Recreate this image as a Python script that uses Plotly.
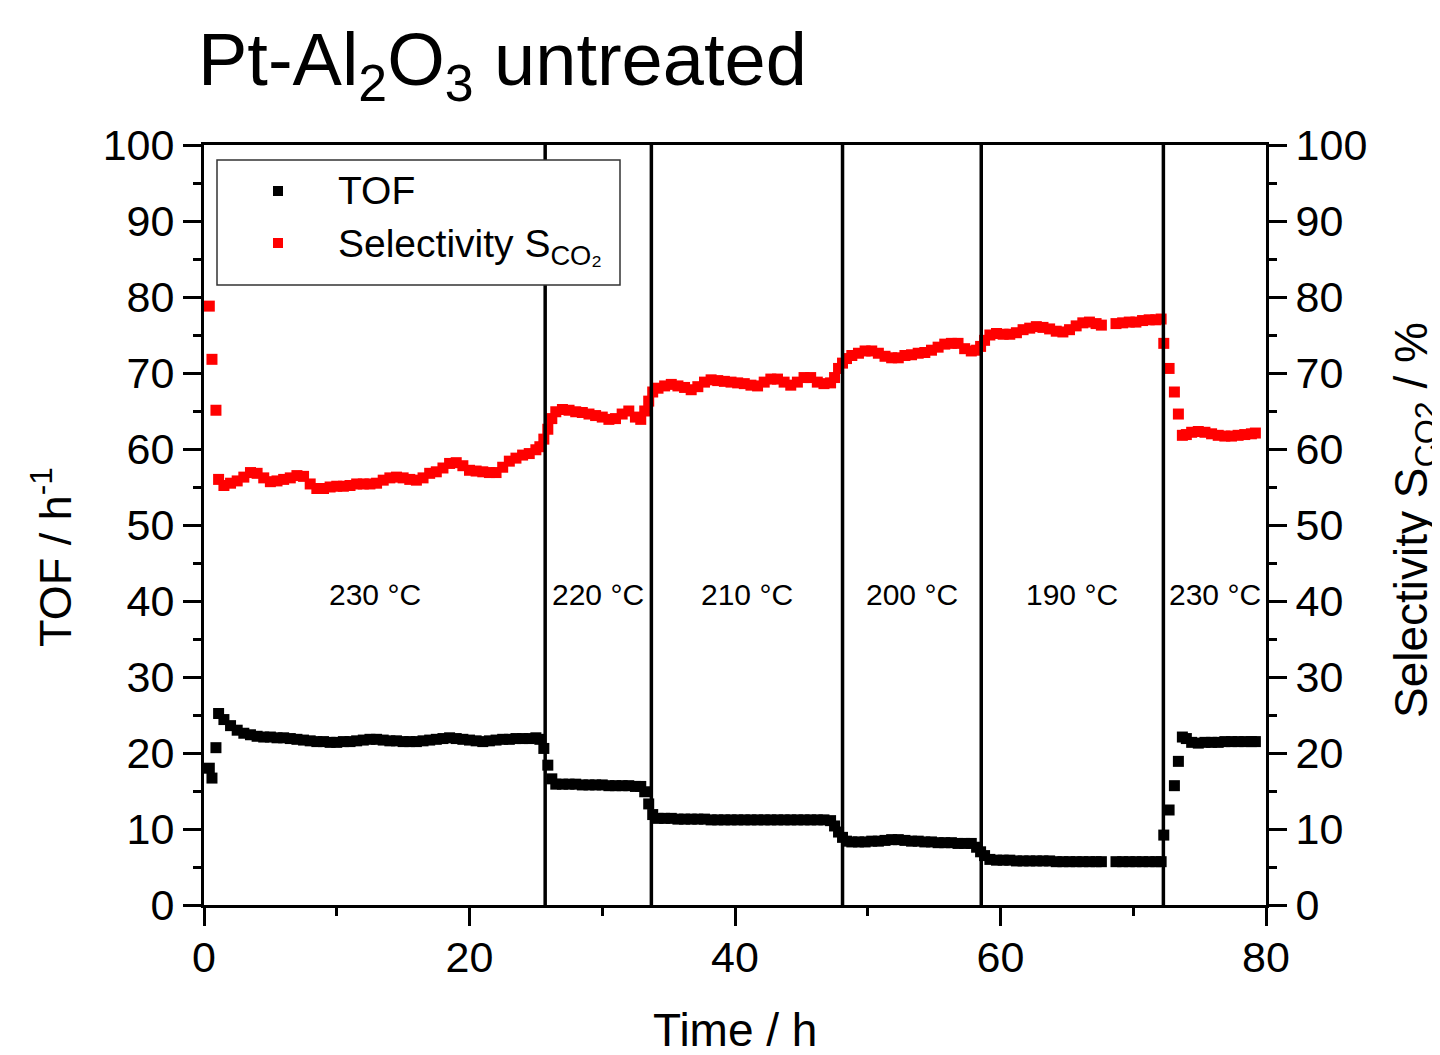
import plotly.graph_objects as go

# ---------------- data ----------------
time_h = [0.4, 0.6, 0.9, 1.1, 1.5, 2.0, 2.5, 3.0, 3.5, 4.0, 4.5, 5.0, 5.5, 6.0, 6.5, 7.0, 7.5, 8.0, 8.5, 9.0,
          9.5, 10.0, 10.5, 11.0, 11.5, 12.0, 12.5, 13.0, 13.5, 14.0, 14.5, 15.0, 15.5, 16.0, 16.5, 17.0, 17.5, 18.0,
          18.5, 19.0, 19.5, 20.0, 20.5, 21.0, 21.5, 22.0, 22.5, 23.0, 23.5, 24.0, 24.5, 25.0, 25.3, 25.6, 25.9,
          26.2, 26.5, 27.0, 27.5, 28.0, 28.5, 29.0, 29.5, 30.0, 30.5, 31.0, 31.5, 32.0, 32.5, 32.9, 33.2, 33.5,
          33.8, 34.2, 34.7, 35.2, 35.7, 36.2, 36.7, 37.2, 37.7, 38.2, 38.7, 39.2, 39.7, 40.2, 40.7, 41.2, 41.7,
          42.2, 42.7, 43.2, 43.7, 44.2, 44.7, 45.2, 45.7, 46.2, 46.7, 47.2, 47.5, 47.8, 48.1, 48.4, 48.8, 49.3,
          49.8, 50.3, 50.8, 51.3, 51.8, 52.3, 52.8, 53.3, 53.8, 54.3, 54.8, 55.3, 55.8, 56.3, 56.8, 57.3, 57.8,
          58.2, 58.5, 58.8, 59.2, 59.7, 60.2, 60.7, 61.2, 61.7, 62.2, 62.7, 63.2, 63.7, 64.2, 64.7, 65.2, 65.7,
          66.2, 66.7, 67.2, 67.6, 68.7, 69.2, 69.7, 70.2, 70.7, 71.2, 71.7, 72.1, 72.3, 72.7, 73.1, 73.4, 73.7,
          74.0, 74.4, 74.9, 75.4, 75.9, 76.4, 76.9, 77.4, 77.9, 78.4, 78.9, 79.2]

tof = [18.0, 16.7, 20.7, 25.2, 24.4, 23.6, 23.0, 22.6, 22.4, 22.2, 22.1, 22.1, 22.0, 22.0, 21.9, 21.8, 21.7, 21.6,
       21.5, 21.5, 21.4, 21.4, 21.5, 21.5, 21.6, 21.7, 21.8, 21.8, 21.7, 21.6, 21.6, 21.5, 21.5, 21.5, 21.6, 21.7,
       21.8, 21.9, 22.0, 21.9, 21.8, 21.7, 21.6, 21.5, 21.6, 21.7, 21.8, 21.8, 21.9, 21.9, 21.9, 22.0, 21.8, 20.6,
       18.4, 16.6, 15.9, 15.9, 15.9, 15.9, 15.8, 15.8, 15.8, 15.8, 15.7, 15.7, 15.7, 15.7, 15.6, 15.6, 14.9, 13.3,
       11.9, 11.4, 11.4, 11.4, 11.3, 11.3, 11.3, 11.3, 11.3, 11.2, 11.2, 11.2, 11.2, 11.2, 11.2, 11.2, 11.2, 11.2,
       11.2, 11.2, 11.2, 11.2, 11.2, 11.2, 11.2, 11.2, 11.2, 11.1, 10.4, 9.6, 8.9, 8.4, 8.3, 8.3, 8.3, 8.4, 8.4,
       8.5, 8.6, 8.6, 8.5, 8.4, 8.4, 8.3, 8.3, 8.2, 8.2, 8.2, 8.1, 8.1, 8.1, 7.6, 7.0, 6.5, 6.0, 5.9, 5.9, 5.9,
       5.8, 5.8, 5.8, 5.8, 5.8, 5.8, 5.7, 5.7, 5.7, 5.7, 5.7, 5.7, 5.7, 5.7, 5.7, 5.7, 5.7, 5.7, 5.7, 5.7, 5.7,
       5.7, 9.2, 12.5, 15.7, 18.9, 22.1, 21.9, 21.4, 21.3, 21.4, 21.4, 21.4, 21.5, 21.5, 21.5, 21.5, 21.5, 21.5]

selectivity = [78.8, 71.8, 65.1, 56.0, 55.2, 55.5, 55.8, 56.3, 56.9, 56.8, 56.2, 55.7, 55.8, 56.0, 56.2, 56.5,
               56.4, 55.4, 54.8, 54.8, 55.0, 55.1, 55.1, 55.2, 55.4, 55.4, 55.4, 55.5, 55.9, 56.2, 56.3, 56.2,
               56.0, 55.9, 56.2, 56.8, 57.0, 57.5, 58.1, 58.2, 57.8, 57.2, 57.1, 57.0, 56.9, 56.9, 57.6, 58.4,
               58.8, 59.2, 59.4, 59.9, 60.3, 61.3, 62.6, 64.0, 64.9, 65.2, 65.1, 64.9, 64.8, 64.6, 64.4, 64.2,
               63.9, 64.0, 64.6, 65.0, 64.2, 63.9, 65.0, 66.3, 67.5, 68.0, 68.3, 68.5, 68.3, 68.1, 67.8, 68.2,
               68.8, 69.1, 69.0, 68.9, 68.8, 68.7, 68.6, 68.4, 68.3, 68.8, 69.2, 69.2, 68.8, 68.4, 68.8, 69.4,
               69.4, 68.8, 68.6, 68.7, 69.4, 70.6, 71.3, 71.9, 72.3, 72.6, 72.9, 72.9, 72.6, 72.2, 72.0, 72.0,
               72.3, 72.4, 72.6, 72.7, 73.0, 73.4, 73.8, 73.9, 73.9, 73.2, 72.9, 73.0, 73.5, 74.3, 75.0, 75.2,
               75.1, 75.1, 75.3, 75.7, 75.9, 76.1, 76.0, 75.8, 75.5, 75.4, 75.7, 76.2, 76.6, 76.7, 76.5, 76.3,
               76.5, 76.6, 76.7, 76.7, 76.9, 77.0, 77.0, 77.1, 73.9, 70.6, 67.5, 64.6, 61.8, 61.9, 62.2, 62.3,
               62.2, 62.0, 61.8, 61.7, 61.7, 61.8, 61.9, 62.0, 62.1]

# temperature-step boundaries (h) and the temperature of each segment
boundaries = [25.7, 33.7, 48.1, 58.55, 72.27]
temperatures = ["230 °C", "220 °C", "210 °C", "200 °C", "190 °C", "230 °C"]
label_level = 40.8
x_ticks = [0, 20, 40, 60, 80]
y_ticks = [0, 10, 20, 30, 40, 50, 60, 70, 80, 90, 100]

# ---------------- layout helpers ----------------
OFF = 8                      # page body margin of the html page
W, H = 1440 - OFF, 1055 - OFF
L, R, T, B = 204, 1266, 145, 905   # plot area in page pixels
FONT = "Liberation Sans, Arial, sans-serif"


def px(xp):
    return (xp - L) / (R - L)


def py(yp):
    return (B - yp) / (B - T)


fig = go.Figure()
fig.add_trace(go.Scatter(x=time_h, y=tof, mode="markers", name="TOF",
                         marker=dict(symbol="square", size=11, color="black", line=dict(width=0)),
                         yaxis="y", showlegend=False))
fig.add_trace(go.Scatter(x=time_h, y=selectivity, mode="markers", name="Selectivity S<sub>CO₂</sub>",
                         marker=dict(symbol="square", size=11, color="#ff0000", line=dict(width=0)),
                         yaxis="y2", showlegend=False))

shapes = []
for b in boundaries:
    shapes.append(dict(type="line", xref="x", yref="paper", x0=b, x1=b, y0=0, y1=1,
                       line=dict(color="black", width=3.5), layer="above"))

annotations = []
edges = [0] + boundaries + [80]
for i, lab in enumerate(temperatures):
    annotations.append(dict(x=(edges[i] + edges[i + 1]) / 2, y=label_level, xref="x", yref="y",
                            text=lab, showarrow=False, font=dict(size=30, color="black", family=FONT)))

# legend box (manual)
shapes.append(dict(type="rect", xref="paper", yref="paper", x0=px(217), x1=px(620), y0=py(285), y1=py(160),
                   line=dict(color="#333333", width=1.5), fillcolor="white", layer="above"))
for yy, col in [(191, "black"), (243, "#ff0000")]:
    shapes.append(dict(type="rect", xref="paper", yref="paper", x0=px(273), x1=px(283), y0=py(yy + 5),
                       y1=py(yy - 5), line=dict(width=0), fillcolor=col, layer="above"))
annotations.append(dict(x=px(336), y=py(191), xref="paper", yref="paper", xanchor="left", yanchor="middle",
                        text="TOF", showarrow=False, font=dict(size=39, color="black", family=FONT)))
annotations.append(dict(x=px(336), y=py(246), xref="paper", yref="paper", xanchor="left", yanchor="middle",
                        text="Selectivity S<sub>CO₂</sub>", showarrow=False,
                        font=dict(size=39, color="black", family=FONT)))

# titles
annotations.append(dict(x=px(196), y=py(65), xref="paper", yref="paper", xanchor="left", yanchor="middle",
                        text="Pt-Al<sub>2</sub>O<sub>3</sub> untreated", showarrow=False,
                        font=dict(size=74, color="black", family=FONT)))
annotations.append(dict(x=px(735), y=py(1030), xref="paper", yref="paper", xanchor="center", yanchor="middle",
                        text="Time / h", showarrow=False, font=dict(size=46, color="black", family=FONT)))
annotations.append(dict(x=px(52), y=py(557), xref="paper", yref="paper", xanchor="center", yanchor="middle",
                        text="TOF / h<sup>-1</sup>", textangle=-90, showarrow=False,
                        font=dict(size=45, color="black", family=FONT)))
annotations.append(dict(x=px(1414), y=py(520), xref="paper", yref="paper", xanchor="center", yanchor="middle",
                        text="Selectivity S<sub>CO2</sub> / %", textangle=-90, showarrow=False,
                        font=dict(size=46, color="black", family=FONT)))

axis_common = dict(showgrid=False, zeroline=False, showline=True, linecolor="black", linewidth=3,
                   ticks="outside", ticklen=18, tickwidth=3, tickcolor="black",
                   tickfont=dict(size=43, color="black", family=FONT))

fig.update_layout(
    width=W, height=H,
    margin=dict(l=L - OFF, r=W - (R - OFF), t=T - OFF, b=H - (B - OFF), pad=0),
    paper_bgcolor="white", plot_bgcolor="white",
    showlegend=False,
    xaxis=dict(range=[0, 80], tickvals=x_ticks, mirror=True, ticklabelstandoff=-6,
               minor=dict(dtick=10, tick0=0, ticks="outside", ticklen=8, tickwidth=3, tickcolor="black"),
               **axis_common),
    yaxis=dict(range=[0, 100], tickvals=y_ticks,
               minor=dict(dtick=5, tick0=0, ticks="outside", ticklen=8, tickwidth=3, tickcolor="black"),
               **axis_common),
    yaxis2=dict(range=[0, 100], tickvals=y_ticks, overlaying="y", side="right",
                minor=dict(dtick=5, tick0=0, ticks="outside", ticklen=8, tickwidth=3, tickcolor="black"),
                **axis_common),
    shapes=shapes,
    annotations=annotations,
)

fig.write_html("out.html")
